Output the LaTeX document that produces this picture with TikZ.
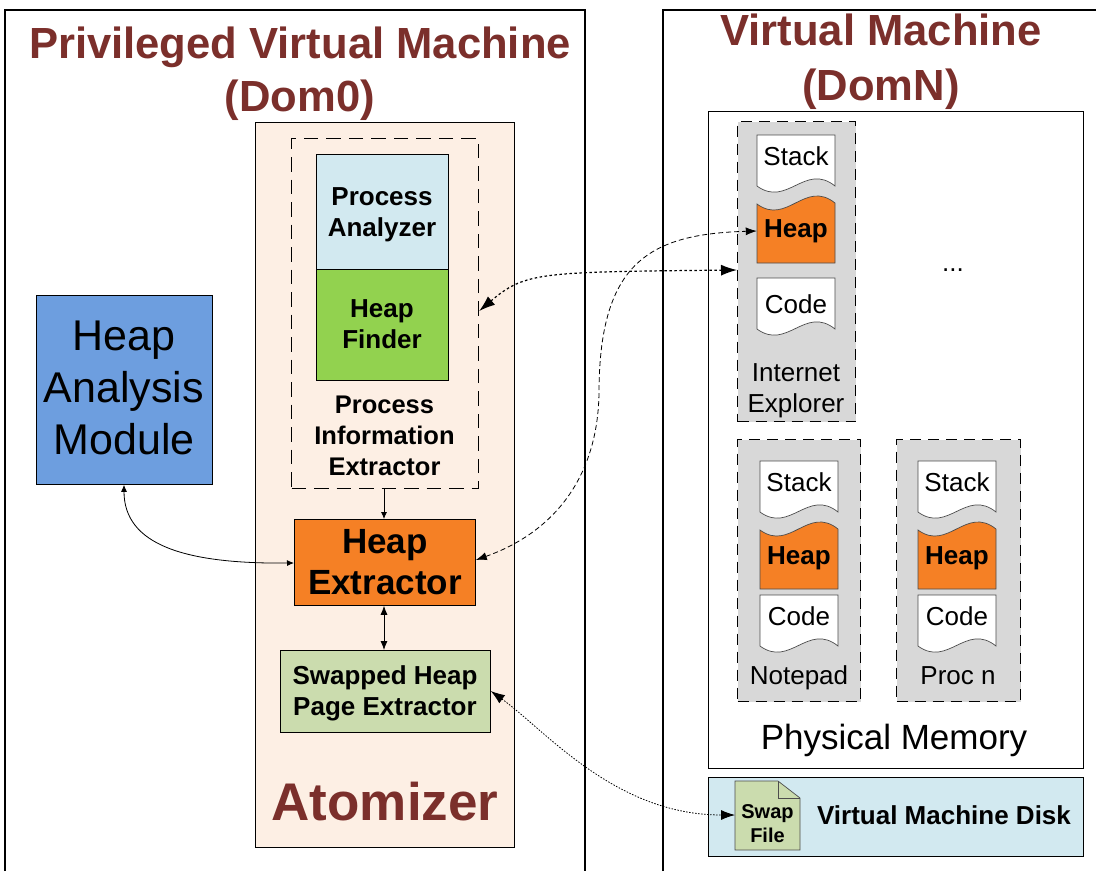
\documentclass[tikz,border=0pt]{standalone}
\usepackage{fontspec}
\setmainfont{Liberation Sans}
\usetikzlibrary{arrows.meta}
\definecolor{titlered}{HTML}{7B2F2B}
\definecolor{atomfill}{HTML}{FDEFE4}
\definecolor{orangef}{HTML}{F58025}
\definecolor{paleblue}{HTML}{D2E9F0}
\definecolor{greenf}{HTML}{92D24F}
\definecolor{bluef}{HTML}{6D9EDF}
\definecolor{sagef}{HTML}{CBDCAE}
\definecolor{grayf}{HTML}{D8D8D8}
\newcommand{\fs}[1]{\fontsize{#1}{#1}\selectfont}
\tikzset{
  x=1pt,y=-1pt,
  frame/.style={draw=black,line width=1.1pt},
  block/.style={draw=black,line width=0.8pt,inner sep=0pt,align=center,anchor=north west},
  title/.style={text=titlered,font=\bfseries\fs{43.6}\selectfont,align=center,inner sep=0pt},
  bigtip/.style={{Latex[length=16pt,width=11pt]}-{Latex[length=16pt,width=11pt]}},
  midtip/.style={{Latex[length=11pt,width=8pt]}-{Latex[length=11pt,width=8pt]}},
  dottip/.style={{Latex[length=14pt,width=10pt]}-{Latex[length=14pt,width=10pt]}},
  smalltips/.style={{Latex[length=9pt,width=7pt]}-{Latex[length=9pt,width=7pt]}},
  onetip/.style={-{Latex[length=7pt,width=6pt]}},
  thintips/.style={{Latex[length=7pt,width=6pt]}-{Latex[length=7pt,width=6pt]}},
  procbox/.style={draw=black,fill=grayf,line width=1.3pt,dash pattern=on 11pt off 7pt},
  docline/.style={draw=black!70,line width=0.7pt},
  lab/.style={font=\fs{26},align=center,inner sep=0pt},
  blab/.style={font=\bfseries\fs{26},align=center,inner sep=0pt},
}
\newcommand{\stackcode}[2]{%
  \draw[docline,fill=white] (#1,#2) -- ++(78,0) -- ++(0,51) .. controls +(-30,-24) and +(30,22) .. ++(-78,0) -- cycle;}
\newcommand{\heapshape}[2]{%
  \draw[docline,fill=orangef] (#1,#2) .. controls +(30,22) and +(-30,-24) .. ++(78,-1) -- ++(0,60) -- ++(-78,0) -- cycle;}
\begin{document}
\begin{tikzpicture}
\useasboundingbox (0,0) rectangle (1096,871);
% outer panels
\draw[frame] (5,871) -- (5,10) -- (585,10) -- (585,871);
\draw[frame] (663,871) -- (663,10) -- (1096,10);
\node[title] (dom0) at (300,73.5) {Privileged Virtual Machine\\[9pt](Dom0)};
\node[title] (domN) at (881,62) {Virtual Machine\\[11pt](DomN)};
% Atomizer
\node[block,fill=atomfill,minimum width=259pt,minimum height=725pt] (atom) at (255,122) {};
\node[text=titlered,font=\bfseries\fs{53},inner sep=0pt] (atomlab) at (385,802) {Atomizer};
\node[block,dash pattern=on 14.5pt off 8pt,line width=1.2pt,minimum width=187pt,minimum height=350pt] (pie) at (291,138) {};
\node[block,fill=paleblue,minimum width=132pt,minimum height=115pt] (pa) at (316,154) {};
\node[blab] (palab) at (382,215) {Process\\[5pt]Analyzer};
\node[block,fill=greenf,minimum width=132pt,minimum height=111pt] (hf) at (316,269) {};
\node[blab] (hflab) at (382,324) {Heap\\[5pt]Finder};
\node[blab,font=\bfseries\fs{25.5}] (pielab) at (384.5,435.5) {Process\\[5.5pt]Information\\[5.5pt]Extractor};
\node[block,fill=orangef,minimum width=181pt,minimum height=86pt,font=\bfseries\fs{35}] (he) at (294,519) {Heap\\[6pt]Extractor};
\node[block,fill=sagef,minimum width=210pt,minimum height=82pt] (sw) at (280,650) {};
\node[blab] (swlab) at (385,693) {Swapped Heap\\[5pt]Page Extractor};
\node[block,fill=bluef,minimum width=176pt,minimum height=189pt] (ham) at (36,295) {};
\node[lab,font=\fs{43}] (hamlab) at (124,388) {Heap\\[9pt]Analysis\\[9pt]Module};
% Physical memory
\node[block,line width=1.1pt,minimum width=375pt,minimum height=657pt] (pm) at (708,111) {};
\node[lab,font=\fs{35}] (pmlab) at (894,740) {Physical Memory};
% Internet Explorer
\node[anchor=north west,procbox,minimum width=118pt,minimum height=300pt,inner sep=0pt] (ie) at (737,121) {};
\stackcode{757}{135}
\heapshape{757}{204}
\stackcode{757}{278}
\node[lab] (s1) at (796,156) {Stack};
\node[inner sep=0pt,minimum width=78pt,minimum height=59pt,font=\bfseries\fs{26}] (h1) at (796,231) {Heap};
\node[lab] (c1) at (796,304) {Code};
\node[lab] (ielab) at (796,391) {Internet\\[5pt]Explorer};
\node[lab] (dots) at (953,270) {...};
% Notepad
\node[anchor=north west,procbox,minimum width=123pt,minimum height=262pt,inner sep=0pt] (np) at (737,439) {};
\stackcode{760}{461}
\heapshape{760}{530}
\stackcode{760}{595}
\node[lab] (s2) at (799,482) {Stack};
\node[inner sep=0pt,font=\bfseries\fs{26}] (h2) at (799,558) {Heap};
\node[lab] (c2) at (799,616) {Code};
\node[lab] (nplab) at (799,678) {Notepad};
% Proc n
\node[anchor=north west,procbox,minimum width=124pt,minimum height=262pt,inner sep=0pt] (pn) at (896,439) {};
\stackcode{918}{461}
\heapshape{918}{530}
\stackcode{918}{595}
\node[lab] (s3) at (957,482) {Stack};
\node[inner sep=0pt,font=\bfseries\fs{26}] (h3) at (957,558) {Heap};
\node[lab] (c3) at (957,616) {Code};
\node[lab] (pnlab) at (958,675.5) {Proc n};
% Disk
\node[block,fill=paleblue,line width=1.1pt,minimum width=375pt,minimum height=79pt] (disk) at (708,777) {};
\node[inner sep=0pt,font=\bfseries\fs{26}] (disklab) at (944,815) {Virtual Machine Disk};
\draw[docline,fill=sagef] (735,781) -- (778,781) -- (800,798) -- (800,850) -- (735,850) -- cycle;
\draw[docline] (778,781) -- (778,798) -- (800,798);
\node[inner sep=0pt,font=\bfseries\fs{20},align=center] (swaplab) at (767.5,824) {Swap\\[4pt]File};
\coordinate (swapf) at (735,815);
% connectors
\draw[onetip,line width=0.8pt] (pie.south -| 384,488) -- (he.north -| 384,519);
\draw[smalltips,line width=0.8pt] (he.south -| 384,605) -- (sw.north -| 384,650);
\draw[thintips,line width=0.8pt] (ham.south -| 124,484) .. controls (124,545) and (185,564) .. (he.west |- 0,563);
\draw[bigtip,line width=1.2pt,dash pattern=on 2.5pt off 2.5pt] (pie.east |- 0,311) .. controls (525,272) and (540,272) .. (ie.west |- 0,270);
\draw[midtip,line width=0.8pt,dash pattern=on 5pt off 3pt] (he.east |- 0,560) .. controls (560,530) and (599,470) .. (599,390) .. controls (600,262) and (650,234) .. (h1.west |- 0,231);
\draw[dottip,line width=0.8pt,dash pattern=on 1.5pt off 1.5pt] (sw.east |- 0,691) .. controls (545,730) and (615,815) .. (swapf);
\end{tikzpicture}
\end{document}
